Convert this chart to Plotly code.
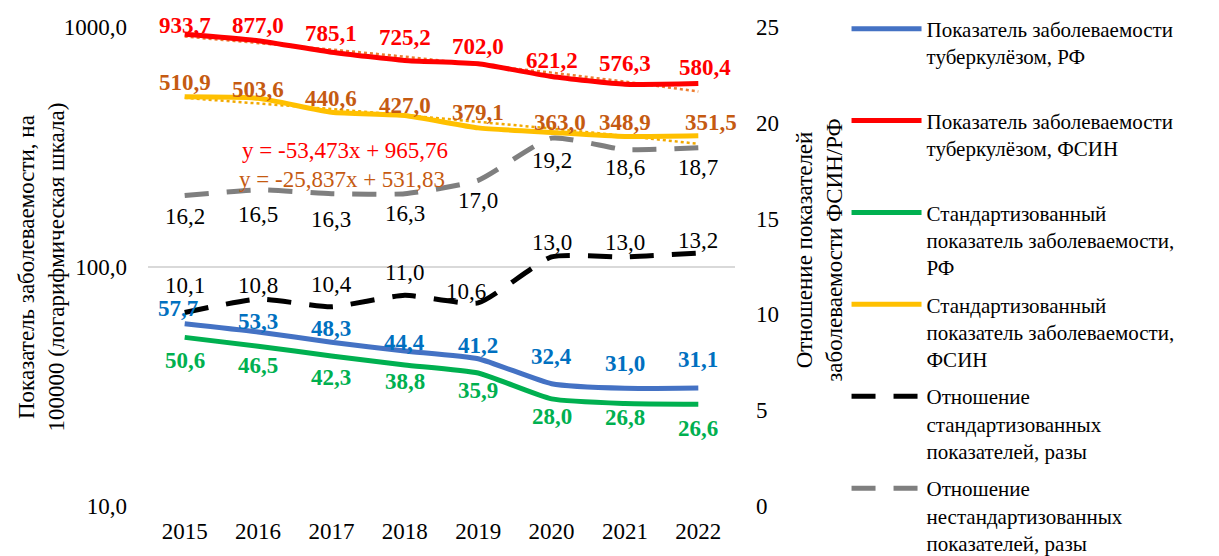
import numpy as np
import plotly.graph_objects as go

years = ["2015", "2016", "2017", "2018", "2019", "2020", "2021", "2022"]
rf = [57.7, 53.3, 48.3, 44.4, 41.2, 32.4, 31.0, 31.1]
fsin = [933.7, 877.0, 785.1, 725.2, 702.0, 621.2, 576.3, 580.4]
std_rf = [50.6, 46.5, 42.3, 38.8, 35.9, 28.0, 26.8, 26.6]
std_fsin = [510.9, 503.6, 440.6, 427.0, 379.1, 363.0, 348.9, 351.5]
ratio_std = [10.1, 10.8, 10.4, 11.0, 10.6, 13.0, 13.0, 13.2]
ratio_raw = [16.2, 16.5, 16.3, 16.3, 17.0, 19.2, 18.6, 18.7]

left_tickvals = [10, 100, 1000]
left_ticktext = ["10,0", "100,0", "1000,0"]
right_tickvals = [0, 5, 10, 15, 20, 25]

trend_fsin = (-53.473, 965.76)
trend_std_fsin = (-25.837, 531.83)
trend_fsin_text = "y = -53,473x + 965,76"
trend_std_fsin_text = "y = -25,837x + 531,83"

left_title = "Показатель заболеваемости, на<br>100000 (логарифмическая шкала)"
right_title = "Отношение показателей<br>заболеваемости ФСИН/РФ"

names = [
    "Показатель заболеваемости<br>туберкулёзом, РФ<br> ",
    "Показатель заболеваемости<br>туберкулёзом, ФСИН<br> ",
    "Стандартизованный<br>показатель заболеваемости,<br>РФ",
    "Стандартизованный<br>показатель заболеваемости,<br>ФСИН",
    "Отношение<br>стандартизованных<br>показателей, разы",
    "Отношение<br>нестандартизованных<br>показателей, разы",
]

# label placement (pixel offsets of each data label from its point)
shift_rf = [15, 10, 14, 8, 13, 27, 25, 28]
shift_fsin = [9, 15, 19, 23, 17, 16, 21, 16]
shift_std_rf = [-23, -19, -22, -17, -17, -18, -14, -24]
shift_std_fsin = [14, 9, 14, 10, 15, 10, 14, 13]
shift_ratio_std = [27, 14, 22, 23, 11, 14, 14, 13]
shift_ratio_raw = [-21, -25, -26, -20, -20, -22, -18, -20]
xshift_rf = [-7, 0, 0, 0, 0, 0, 0, 0]
xshift_fsin = [0, 0, 0, 0, 0, 0, 0, 7]
xshift_std_fsin = [0, 0, 0, 0, 0, 8, 0, 13]
xshift_ratio_std = [0, 0, 0, 0, -12, 0, 0, 0]
zeros = [0] * 8

FONT = "Liberation Serif"
BLUE, RED, GREEN, YELLOW = "#4472C4", "#FF0000", "#00B050", "#FFC000"
BLACK, GRAY = "#000000", "#7F7F7F"


def fmt(v):
    return f"{v:.1f}".replace(".", ",")


fig = go.Figure()

# trendlines (drawn beneath)
xi = np.arange(1, len(years) + 1)
fig.add_trace(go.Scatter(x=years, y=trend_fsin[0] * xi + trend_fsin[1], mode="lines",
                         line=dict(color="#ED7D31", width=2.5, dash="dot"),
                         showlegend=False, hoverinfo="skip"))
fig.add_trace(go.Scatter(x=years, y=trend_std_fsin[0] * xi + trend_std_fsin[1], mode="lines",
                         line=dict(color="#F2A900", width=2.5, dash="dot"),
                         showlegend=False, hoverinfo="skip"))

series = [
    (rf, BLUE, "solid", "y", names[0]),
    (fsin, RED, "solid", "y", names[1]),
    (std_rf, GREEN, "solid", "y", names[2]),
    (std_fsin, YELLOW, "solid", "y", names[3]),
    (ratio_std, BLACK, "24px,18px", "y2", names[4]),
    (ratio_raw, GRAY, "24px,18px", "y2", names[5]),
]
for i, (vals, col, dash, ax, nm) in enumerate(series):
    fig.add_trace(go.Scatter(
        x=years, y=vals, mode="lines", name=nm, yaxis=ax, legendgroup=f"g{i}",
        line=dict(color=col, width=5, dash=dash, shape="spline", smoothing=0.5),
    ))

# data labels
labels = [
    (rf, "#0070C0", True, shift_rf, xshift_rf, "y"),
    (fsin, "#FF0000", True, shift_fsin, xshift_fsin, "y"),
    (std_rf, "#00B050", True, shift_std_rf, zeros, "y"),
    (std_fsin, "#C55A11", True, shift_std_fsin, xshift_std_fsin, "y"),
    (ratio_std, "#000000", False, shift_ratio_std, xshift_ratio_std, "y2"),
    (ratio_raw, "#000000", False, shift_ratio_raw, zeros, "y2"),
]
ann = []
for vals, col, bold, shifts, xshifts, ax in labels:
    for i, v in enumerate(vals):
        yy = float(np.log10(v)) if ax == "y" else v
        ann.append(dict(x=i, y=yy, xref="x", yref=ax, text=f"<b>{fmt(v)}</b>" if bold else fmt(v),
                        showarrow=False, yshift=shifts[i], xshift=xshifts[i],
                        font=dict(family=FONT, size=23, color=col)))

ann.append(dict(x=0.157, y=0.743, xref="paper", yref="paper", text=trend_fsin_text, showarrow=False,
                xanchor="left", yanchor="middle", font=dict(family=FONT, size=23, color="#FF0000")))
ann.append(dict(x=0.152, y=0.681, xref="paper", yref="paper", text=trend_std_fsin_text, showarrow=False,
                xanchor="left", yanchor="middle", font=dict(family=FONT, size=23, color="#C55A11")))
# axis titles
ann.append(dict(x=-0.1806, y=0.5, xref="paper", yref="paper", text=left_title, showarrow=False,
                textangle=-90, xanchor="center", yanchor="middle",
                font=dict(family=FONT, size=23, color="#000000")))
ann.append(dict(x=1.1448, y=0.535, xref="paper", yref="paper", text=right_title, showarrow=False,
                textangle=-90, xanchor="center", yanchor="middle",
                font=dict(family=FONT, size=23, color="#000000")))

fig.update_layout(
    width=1211, height=548,
    margin=dict(l=140, r=484, t=19, b=50, autoexpand=False),
    paper_bgcolor="white", plot_bgcolor="white",
    font=dict(family=FONT, size=23, color="#000000"),
    annotations=ann,
    xaxis=dict(type="category", range=[-0.5, 7.5], showgrid=False, zeroline=False,
               showline=False, ticks="", tickfont=dict(family=FONT, size=23), ticklabelstandoff=9),
    yaxis=dict(type="log", range=[1, 3], tickvals=left_tickvals, ticktext=left_ticktext,
               showgrid=True, gridcolor="#D9D9D9", gridwidth=1.5, zeroline=False,
               showline=False, ticks="", tickfont=dict(family=FONT, size=23), ticklabelstandoff=20),
    yaxis2=dict(overlaying="y", side="right", range=[0, 25], tickvals=right_tickvals,
                showgrid=False, zeroline=False, showline=False, ticks="",
                tickfont=dict(family=FONT, size=23), ticklabelstandoff=20),
    legend=dict(x=1.19, y=1.0386, xanchor="left", yanchor="top", valign="top",
                font=dict(family=FONT, size=21), itemwidth=70, tracegroupgap=7,
                bgcolor="rgba(0,0,0,0)", traceorder="grouped", maxheight=800),
)

fig.write_html("out.html")
